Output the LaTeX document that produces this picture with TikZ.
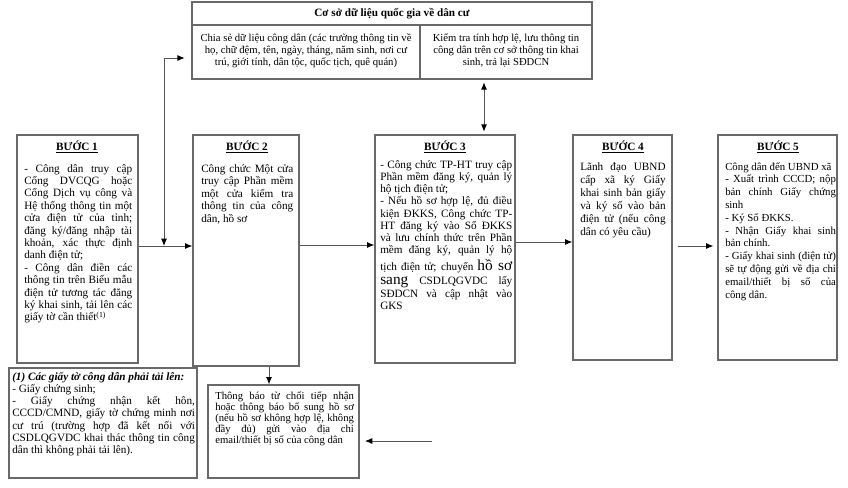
\documentclass[tikz,border=0pt]{standalone}
\usepackage{fontspec}
\setmainfont{Liberation Serif}
\usetikzlibrary{arrows.meta,fit}
\setlength\lineskiplimit{-20pt}
\newcommand\JL[1]{\makebox[\linewidth][s]{#1}\par}
\newcommand\LL[1]{\mbox{#1}\par}
\newcommand\bigtxt{\fontsize{11.5}{9}\selectfont}
\definecolor{bordergray}{RGB}{105,105,105}
\definecolor{linegray}{RGB}{85,85,85}
\begin{document}
\begin{tikzpicture}[x=0.75pt,y=-0.75pt,
  box/.style={draw=bordergray,line width=0.9pt,inner sep=0pt},
  txt/.style={inner sep=0pt,anchor=base west},
  ctxt/.style={inner sep=0pt,anchor=base},
  ttl/.style={inner sep=0pt,anchor=base,font=\fontsize{8.4}{10}\selectfont\bfseries},
  conn/.style={draw=linegray,line width=0.7pt},
  >={Latex[length=5.5pt,width=4.5pt,color=black]}
]
\useasboundingbox (0,0) rectangle (848,487);

% top database box
\node[box, fit={(192,2) (592,79)}] (tb) {};
\coordinate (r1) at (0,25);
\coordinate (dv) at (420,0);
\draw[box] (tb.west |- r1) -- (tb.east |- r1);
\draw[box] (tb.south -| dv) -- (r1 -| dv);
\node[ttl,font=\fontsize{8.4}{10}\selectfont\bfseries] (tbt) at (392,16) {Cơ sở dữ liệu quốc gia về dân cư};
\node[ctxt] (tbl) at (306,41) {\parbox[t]{170pt}{\fontsize{8}{9.2}\selectfont\centering
Chia sẻ dữ liệu công dân (các trường thông tin về\\
họ, chữ đệm, tên, ngày, tháng, năm sinh, nơi cư\\
trú, giới tính, dân tộc, quốc tịch, quê quán)\par}};
\node[ctxt] (tbr) at (506,41) {\parbox[t]{128pt}{\fontsize{8}{9.2}\selectfont\centering
Kiểm tra tính hợp lệ, lưu thông tin\\
công dân trên cơ sở thông tin khai\\
sinh, trả lại SĐDCN\par}};

% step boxes
\node[box, fit={(17,135) (138,363)}] (s1) {};
\node[box, fit={(193,135) (299,366)}] (s2) {};
\node[box, fit={(375,135) (515,363)}] (s3) {};
\node[box, fit={(573,135) (672,360)}] (s4) {};
\node[box, fit={(718,135) (837,360)}] (s5) {};
\node[box, fit={(9,368) (197,478)}] (nt) {};
\node[box, fit={(208,385) (359,478)}] (bb) {};

% titles
\node[ttl] (t1) at (77,150) {\underline{BƯỚC 1}};
\node[ttl] (t2) at (247,150) {\underline{BƯỚC 2}};
\node[ttl] (t3) at (445,150) {\underline{BƯỚC 3}};
\node[ttl] (t4) at (623,150) {\underline{BƯỚC 4}};
\node[ttl] (t5) at (778,150) {\underline{BƯỚC 5}};

% step 1 text
\node[txt] (x1) at (24,172) {\parbox[t]{81pt}{\fontsize{8.4}{9.3}\selectfont
\JL{- Công dân truy cập}
\JL{Cổng DVCQG hoặc}
\JL{Cổng Dịch vụ công và}
\JL{Hệ thống thông tin một}
\JL{cửa điện tử của tỉnh;}
\JL{đăng ký/đăng nhập tài}
\JL{khoản, xác thực định}
\LL{danh điện tử;}
\JL{- Công dân điền các}
\JL{thông tin trên Biểu mẫu}
\JL{điện tử tương tác đăng}
\JL{ký khai sinh, tải lên các}
\LL{giấy tờ cần thiết\textsuperscript{(1)}}}};

% step 2 text
\node[txt] (x2) at (201,172) {\parbox[t]{69pt}{\fontsize{8.4}{9.4}\selectfont
\JL{Công chức Một cửa}
\JL{truy cập Phần mềm}
\JL{một cửa kiểm tra}
\JL{thông tin của công}
\LL{dân, hồ sơ}}};

% step 3 text
\node[txt] (x3) at (380,168) {\parbox[t]{99pt}{\fontsize{8.4}{9.2}\selectfont
\JL{- Công chức TP-HT truy cập}
\JL{Phần mềm đăng ký, quản lý}
\LL{hộ tịch điện tử;}
\JL{- Nếu hồ sơ hợp lệ, đủ điều}
\JL{kiện ĐKKS, Công chức TP-}
\JL{HT đăng ký vào Sổ ĐKKS}
\JL{và lưu chính thức trên Phần}
\JL{mềm đăng ký, quản lý hộ}
\vspace{1pt}\JL{tịch điện tử; chuyển {\bigtxt hồ sơ}}
\vspace{2pt}\JL{{\bigtxt sang} CSDLQGVDC lấy}
\JL{SĐDCN và cập nhật vào}
\LL{GKS}}};

% step 4 text
\node[txt] (x4) at (580,170) {\parbox[t]{64pt}{\fontsize{8.4}{9.75}\selectfont
\JL{Lãnh đạo UBND}
\JL{cấp xã ký Giấy}
\JL{khai sinh bản giấy}
\JL{và ký số vào bản}
\JL{điện tử (nếu công}
\LL{dân có yêu cầu)}}};

% step 5 text
\node[txt] (x5) at (725,170) {\parbox[t]{83pt}{\fontsize{8.1}{9.6}\selectfont
\LL{Công dân đến UBND xã}
\JL{- Xuất trình CCCD; nộp}
\JL{bản chính Giấy chứng}
\LL{sinh}
\LL{- Ký Số ĐKKS.}
\JL{- Nhận Giấy khai sinh}
\LL{bản chính.}
\JL{- Giấy khai sinh (điện tử)}
\JL{sẽ tự động gửi về địa chỉ}
\JL{email/thiết bị số của}
\LL{công dân.}}};

% note text
\node[txt] (xn) at (12,380) {\parbox[t]{137pt}{\fontsize{8.4}{9.2}\selectfont
\LL{\bfseries\itshape (1) Các giấy tờ công dân phải tải lên:}
\LL{- Giấy chứng sinh;}
\JL{- Giấy chứng nhận kết hôn,}
\JL{CCCD/CMND, giấy tờ chứng minh nơi}
\JL{cư trú (trường hợp đã kết nối với}
\JL{CSDLQGVDC khai thác thông tin công}
\LL{dân thì không phải tải lên).}}};

% bottom box text
\node[txt] (xb) at (215,399) {\parbox[t]{104pt}{\fontsize{8}{8.25}\selectfont
\JL{Thông báo từ chối tiếp nhận}
\JL{hoặc thông báo bổ sung hồ sơ}
\JL{(nếu hồ sơ không hợp lệ, không}
\JL{đầy đủ) gửi vào địa chỉ}
\LL{email/thiết bị số của công dân}}};

% connectors
\coordinate (jA) at (164,246);
\coordinate (jB) at (164,58);
\draw[conn,->] (s1.east |- jA) -- (s2.west |- jA);
\draw[conn,<->,shorten <=5pt] (tb.west |- jB) -| (jA);
\coordinate (jC) at (484,0);
\draw[conn,<->,shorten <=2pt,shorten >=2pt] (tb.south -| jC) -- (s3.north -| jC);
\coordinate (y23) at (0,245);
\draw[conn,->] (s2.east |- y23) -- (s3.west |- y23);
\coordinate (y34) at (0,242);
\draw[conn,->] (s3.east |- y34) -- (s4.west |- y34);
\coordinate (y45) at (0,246);
\draw[conn,->,shorten <=4pt,shorten >=3pt] (s4.east |- y45) -- (s5.west |- y45);
\coordinate (jE) at (269,0);
\draw[conn,->] (s2.south -| jE) -- (bb.north -| jE);
\coordinate (jD) at (432,441);
\draw[conn,->,shorten >=4pt] (jD) -- (bb.east |- jD);
\end{tikzpicture}
\end{document}
